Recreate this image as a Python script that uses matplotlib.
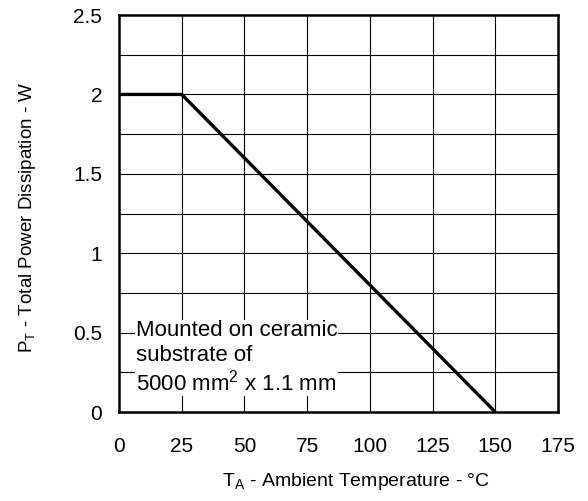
import matplotlib.pyplot as plt

plt.rcParams['font.family'] = ['Liberation Sans', 'DejaVu Sans']

temp = [0, 25, 150]
power = [2, 2, 0]
xticks = [0, 25, 50, 75, 100, 125, 150, 175]
yticks = [0, 0.5, 1, 1.5, 2, 2.5]
xticklabels = ["0", "25", "50", "75", "100", "125", "150", "175"]
yticklabels = ["0", "0.5", "1", "1.5", "2", "2.5"]
note = "Mounted on ceramic\nsubstrate of\n5000 mm$^\\mathregular{2}$ x 1.1 mm"

fig = plt.figure(figsize=(5.88, 5.01), dpi=100)
ax = fig.add_axes([0.2024, 0.1776, 0.7466, 0.7924])

ax.set_xlim(0, 175)
ax.set_ylim(0, 2.5)

# grid: vertical every 25, horizontal every 0.25
for x in xticks[1:-1]:
    ax.axvline(x, color='black', lw=0.8, zorder=1)
for i in range(1, 10):
    ax.axhline(i * 0.25, color='black', lw=0.8, zorder=1)

ax.plot(temp, power, color='black', lw=2.4, zorder=4, clip_on=False,
        solid_capstyle='butt')

ax.text(6.8, 0.34, note, fontsize=16, ha='left', va='center', linespacing=1.2,
        zorder=3, bbox=dict(facecolor='white', edgecolor='none', pad=0.5))

ax.set_xticks(xticks)
ax.set_xticklabels(xticklabels)
ax.set_yticks(yticks)
ax.set_yticklabels(yticklabels)
ax.tick_params(length=0, labelsize=15)
ax.tick_params(axis='x', pad=18)
ax.tick_params(axis='y', pad=12)

for s in ax.spines.values():
    s.set_linewidth(1.8)
    s.set_zorder(5)

ax.set_xlabel("T$_\\mathregular{A}$ - Ambient Temperature - \u00b0C", fontsize=14, labelpad=11)
ax.set_ylabel("P$_\\mathregular{T}$ - Total Power Dissipation - W", fontsize=13.5, labelpad=25)
ax.xaxis.label.set_x(0.54)
ax.yaxis.label.set_y(0.49)

fig.savefig("out.png", dpi=100)
